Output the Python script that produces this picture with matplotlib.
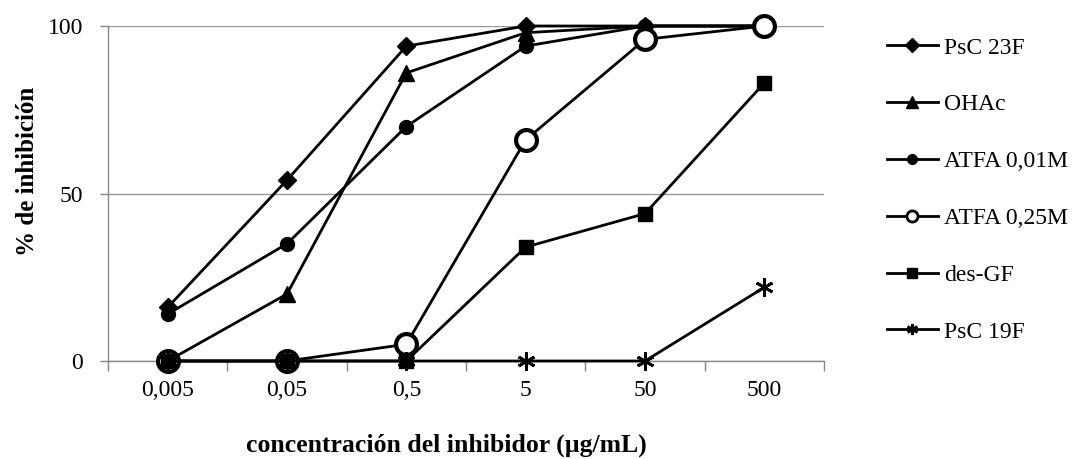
import matplotlib
matplotlib.use("Agg")
import matplotlib.pyplot as plt

categories = ["0,005", "0,05", "0,5", "5", "50", "500"]
psc23f = [16, 54, 94, 100, 100, 100]
ohac = [0, 20, 86, 98, 100, 100]
atfa001 = [14, 35, 70, 94, 100, 100]
atfa025 = [0, 0, 5, 66, 96, 100]
desgf = [0, 0, 0, 34, 44, 83]
psc19f = [0, 0, 0, 0, 0, 22]
labels = ["PsC 23F", "OHAc", "ATFA 0,01M", "ATFA 0,25M", "des-GF", "PsC 19F"]
yticks = [0, 50, 100]

plt.rcParams['font.family'] = ['Liberation Serif', 'DejaVu Serif']

fig = plt.figure(figsize=(10.78, 4.59), dpi=100)
ax = fig.add_axes([108/1078, 1-361/459, (824-108)/1078, (361-26)/459])

x = list(range(len(categories)))
series = [psc23f, ohac, atfa001, atfa025, desgf, psc19f]
styles = [
    dict(marker='D', ms=9, mfc='black', mec='black'),
    dict(marker='^', ms=11, mfc='black', mec='black'),
    dict(marker='o', ms=10, mfc='black', mec='black'),
    dict(marker='o', ms=15, mfc='white', mec='black', mew=3),
    dict(marker='s', ms=10, mfc='black', mec='black'),
    dict(marker=(6, 2, 0), ms=13, mfc='black', mec='black', mew=2),
]
handles = []
for i, (vals, st, lab) in enumerate(zip(series, styles, labels)):
    h, = ax.plot(x, vals, color='black', lw=2, label=lab, zorder=3 + i, clip_on=False, **st)
    handles.append(h)

ax.set_xlim(-0.5, len(categories) - 0.5)
ax.set_ylim(0, 100)
ax.set_xticks(x)
ax.set_xticklabels(categories, fontsize=17)
ax.set_xticks([i + 0.5 for i in range(-1, len(categories))], minor=True)
ax.tick_params(axis='x', which='major', length=0, pad=14)
ax.tick_params(axis='x', which='minor', length=7, color='#888888', width=1)
ax.set_yticks(yticks)
ax.set_yticklabels([str(v) for v in yticks], fontsize=17)
ax.tick_params(axis='y', length=6, color='#888888', width=1, pad=12)
ax.grid(axis='y', color='#999999', lw=1)
ax.set_axisbelow(True)
for s in ['top', 'right']:
    ax.spines[s].set_visible(False)
for s in ['left', 'bottom']:
    ax.spines[s].set_color('#888888')
    ax.spines[s].set_linewidth(1)

ax.set_xlabel("concentración del inhibidor (µg/mL)", fontsize=18.5, fontweight='bold')
ax.xaxis.set_label_coords((446 - 108) / (824 - 108), -(445 - 361) / (361 - 26))
ax.xaxis.label.set_va('center')
ax.set_ylabel("% de inhibición", fontsize=18, fontweight='bold')
ax.yaxis.set_label_coords(-(108 - 28) / (824 - 108), (361 - 171) / (361 - 26))
ax.yaxis.label.set_va('center')

leg_handles = []
small = [7, 8, 7, 8, 7, 8]
for h, st, sm in zip(handles, styles, small):
    d = dict(st)
    d['ms'] = sm
    if 'mew' in d:
        d['mew'] = 2
    lh, = ax.plot([], [], color='black', lw=2, **d)
    leg_handles.append(lh)
leg = fig.legend(leg_handles, labels, loc='upper left', bbox_to_anchor=(887/1078, 1-37/459),
                 frameon=False, fontsize=17, handlelength=2.15, handletextpad=0.25,
                 labelspacing=1.495, borderaxespad=0, borderpad=0)

fig.savefig("out.png", dpi=100)
